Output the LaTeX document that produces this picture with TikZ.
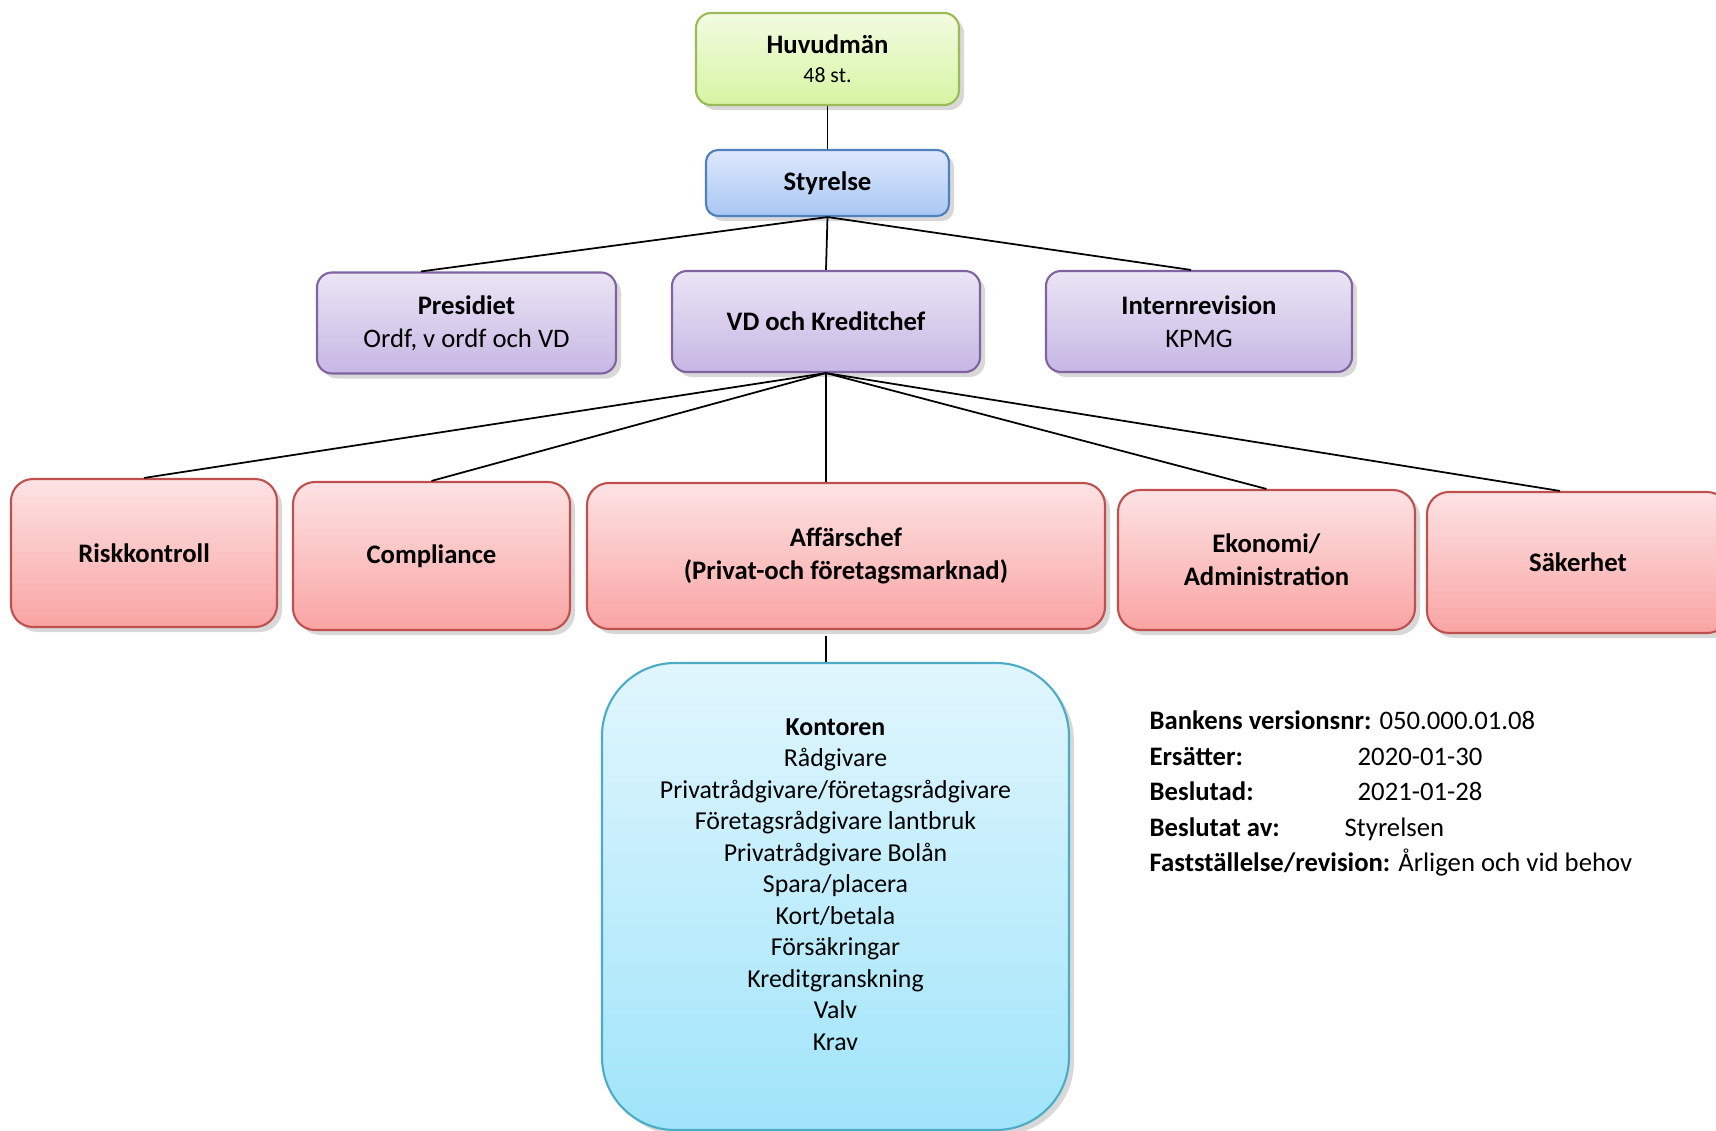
\documentclass[tikz,border=0pt]{standalone}
\usepackage{fontspec}
\setmainfont{Carlito}
\usetikzlibrary{shadows,calc}
\definecolor{grnline}{HTML}{9BBB59}
\definecolor{grntop}{HTML}{F3FBE2}
\definecolor{grnbot}{HTML}{D6F5A2}
\definecolor{bluline}{HTML}{4F81BD}
\definecolor{blutop}{HTML}{DDE8FB}
\definecolor{blubot}{HTML}{A9C7F4}
\definecolor{purline}{HTML}{8064A2}
\definecolor{purtop}{HTML}{EBE5F5}
\definecolor{purbot}{HTML}{C6B7E4}
\definecolor{redline}{HTML}{C0504D}
\definecolor{redtop}{HTML}{FDE3E4}
\definecolor{redbot}{HTML}{F9A4A3}
\definecolor{cyaline}{HTML}{4BACC6}
\definecolor{cyatop}{HTML}{E1F6FD}
\definecolor{cyabot}{HTML}{A0E4FA}
\tikzset{
  box/.style={draw, line width=0.6pt, align=center, inner sep=0pt,
    drop shadow={shadow xshift=0.05cm, shadow yshift=-0.05cm, opacity=0.3},
    font=\fontsize{7.6}{9.3}\selectfont},
  grnbox/.style={box, draw=grnline, top color=grntop, bottom color=grnbot, rounded corners=0.15cm},
  blubox/.style={box, draw=bluline, top color=blutop, bottom color=blubot, rounded corners=0.12cm},
  purbox/.style={box, draw=purline, top color=purtop, bottom color=purbot, rounded corners=0.15cm},
  redbox/.style={box, draw=redline, top color=redtop, bottom color=redbot, rounded corners=0.22cm},
  cyabox/.style={box, draw=cyaline, top color=cyatop, bottom color=cyabot, rounded corners=0.73cm},
  link/.style={draw, line width=0.5pt}
}
\begin{document}
\begin{tikzpicture}
  \clip (0,0) rectangle (17.16,-11.31);
  \fill[white] (0,0) rectangle (17.16,-11.31);

  \node[grnbox, minimum width=2.63cm, minimum height=0.92cm] (huvud) at (8.275,-0.59)
    {\textbf{Huvudmän}\\[-1pt]{\fontsize{6.2}{8}\selectfont 48 st.}};
  \node[blubox, minimum width=2.43cm, minimum height=0.66cm] (styr) at (8.275,-1.83) {\textbf{Styrelse}};

  \node[purbox, minimum width=2.99cm, minimum height=1.01cm] (pres) at (4.665,-3.23)
    {\textbf{Presidiet}\\Ordf, v ordf och VD};
  \node[purbox, minimum width=3.08cm, minimum height=1.01cm] (vd) at (8.26,-3.215) {\textbf{VD och Kreditchef}};
  \node[purbox, minimum width=3.06cm, minimum height=1.01cm] (intern) at (11.99,-3.215)
    {\textbf{Internrevision}\\KPMG};

  \node[redbox, minimum width=2.66cm, minimum height=1.48cm] (risk) at (1.44,-5.53) {\textbf{Riskkontroll}};
  \node[redbox, minimum width=2.77cm, minimum height=1.48cm] (compl) at (4.315,-5.56) {\textbf{Compliance}};
  \node[redbox, minimum width=5.18cm, minimum height=1.46cm] (affar) at (8.46,-5.56)
    {\textbf{Affärschef}\\\textbf{(Privat-och företagsmarknad)}};
  \node[redbox, minimum width=2.97cm, minimum height=1.40cm] (ekon) at (12.665,-5.60)
    {\textbf{Ekonomi/}\\\textbf{Administration}};
  \node[redbox, minimum width=3.02cm, minimum height=1.41cm] (saker) at (15.78,-5.625) {\textbf{Säkerhet}};

  \node[cyabox, minimum width=4.67cm, minimum height=4.67cm, font=\fontsize{7.35}{8.96}\selectfont] (kontor) at (8.355,-8.965)
    {\textbf{Kontoren}\\Rådgivare\\Privatrådgivare/företagsrådgivare\\Företagsrådgivare lantbruk\\
     Privatrådgivare Bolån\\Spara/placera\\Kort/betala\\Försäkringar\\Kreditgranskning\\Valv\\Krav\\[-0.075cm]};

  \node[anchor=west, align=left, inner sep=0pt, font=\fontsize{7.6}{10.1}\selectfont] (info) at (11.49,-7.935)
    {\textbf{Bankens versionsnr:} 050.000.01.08\\
     \makebox[2.08cm][l]{\textbf{Ersätter:}}2020-01-30\\
     \makebox[2.08cm][l]{\textbf{Beslutad:}}2021-01-28\\
     \makebox[1.95cm][l]{\textbf{Beslutat av:}}Styrelsen\\
     \textbf{Fastställelse/revision:} Årligen och vid behov};

  \path[link] (huvud.south) -- (styr.north);
  \path[link] (styr.south) -- ([xshift=-0.455cm]pres.north);
  \path[link] (styr.south) -- (vd.north);
  \path[link] (styr.south) -- ([xshift=-0.08cm]intern.north);

  \path[link] (vd.south) -- (risk.north);
  \path[link] (vd.south) -- (compl.north);
  \path[link] (vd.south) -- (vd.south |- affar.north);
  \path[link] (vd.south) -- (ekon.north);
  \path[link] (vd.south) -- ([xshift=-0.18cm]saker.north);

  \coordinate (affgap) at ($(vd.south |- affar.south)+(0,-0.06)$);
  \path[link] (affgap) -- (vd.south |- kontor.north);
\end{tikzpicture}
\end{document}
